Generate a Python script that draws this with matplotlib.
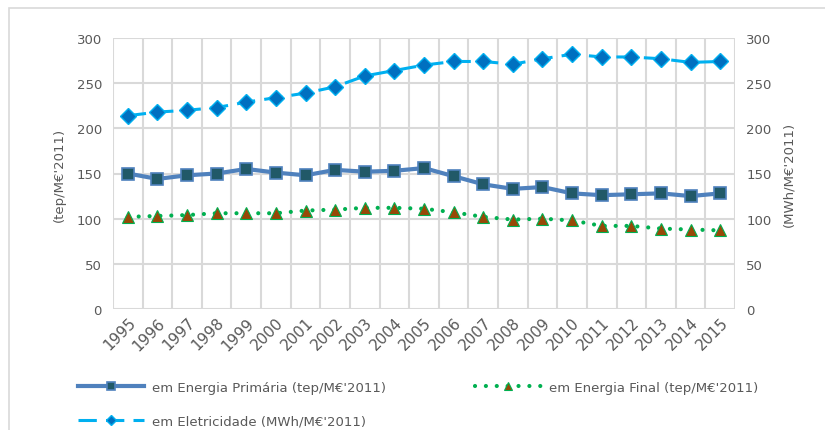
import matplotlib
matplotlib.use('Agg')
import matplotlib.pyplot as plt
from matplotlib.patches import Rectangle
import numpy as np

years = [str(y) for y in range(1995, 2016)]
primaria = [150, 144, 148, 150, 155, 151, 148, 154, 152, 153, 156,
            147, 138, 133, 135, 128, 126, 127, 128, 125, 128]
final = [102, 103, 104, 106, 106, 106, 109, 110, 112, 112, 111,
         107, 102, 99, 100, 98, 92, 92, 89, 88, 87]
eletricidade = [214, 218, 220, 223, 229, 234, 239, 246, 258, 264, 270,
                274, 274, 271, 277, 282, 279, 279, 277, 273, 274]

plt.rcParams['font.family'] = 'DejaVu Sans'
TXT = '#595959'
GRID = '#D9D9D9'

fig = plt.figure(figsize=(8.25, 4.31), dpi=100)
ax = fig.add_axes([113 / 825, 1 - 310 / 431, 622 / 825, 271 / 431])
ax2 = ax.twinx()

x = np.arange(len(years))
ax.plot(x, primaria, color='#4F81BD', lw=3, marker='s', ms=9,
        mfc='#215968', mec='#4F81BD', mew=1.2, zorder=3,
        label="em Energia Primária (tep/M€'2011)")
ax.plot(x, final, color='#00B050', lw=3, ls=(0, (0.01, 2.6)), dash_capstyle='round',
        marker='^', ms=9, mfc='#984807', mec='#00B050', mew=0.8, zorder=3,
        label="em Energia Final (tep/M€'2011)")
ax2.plot(x, eletricidade, color='#00B0F0', lw=2.2, ls=(0, (6, 3)),
         marker='D', ms=8, mfc='#0070C0', mec='#00B0F0', mew=1, zorder=3,
         label="em Eletricidade (MWh/M€'2011)")

for a in (ax, ax2):
    a.set_ylim(0, 300)
    a.set_xlim(-0.5, len(years) - 0.5)
    for s in a.spines.values():
        s.set_visible(False)
    a.tick_params(length=0, labelsize=9.5, labelcolor=TXT, pad=8)
ax.set_yticks(range(0, 301, 50))
ax2.set_yticks(range(0, 301, 50))
ax.set_xticks(x)
ax.set_xticklabels(years, rotation=45, ha='right', rotation_mode='anchor', fontsize=11)
ax.tick_params(axis='x', pad=4)
ax.set_xticks(np.arange(-0.5, len(years), 1), minor=True)
ax.tick_params(axis='x', which='minor', length=0)
ax.grid(True, which='minor', axis='x', color=GRID, lw=1.5)
ax.grid(True, which='major', axis='y', color=GRID, lw=1.5)
ax.set_axisbelow(True)

ax.set_ylabel("(tep/M€'2011)", fontsize=9.5, color=TXT, labelpad=8)
ax2.set_ylabel("(MWh/M€'2011)", fontsize=9.5, color=TXT, labelpad=8)

# legend: column-wise fill -> primaria, eletricidade | final
h1, l1 = ax.get_legend_handles_labels()
h2, l2 = ax2.get_legend_handles_labels()
fig.legend([h1[0], h2[0], h1[1]], [l1[0], l2[0], l1[1]], ncol=2, frameon=False,
           loc='upper left', bbox_to_anchor=(66 / 825, 1 - 370 / 431),
           fontsize=9.5, labelcolor=TXT, handlelength=5, columnspacing=6.8,
           handletextpad=0.6, labelspacing=1.55, markerscale=0.65)

fig.patches.append(Rectangle((9 / 825, -0.1), 1.2, 1.1 - 9 / 431,
                             transform=fig.transFigure, fill=False,
                             ec=GRID, lw=1.2))

fig.savefig('out.png', dpi=100)
